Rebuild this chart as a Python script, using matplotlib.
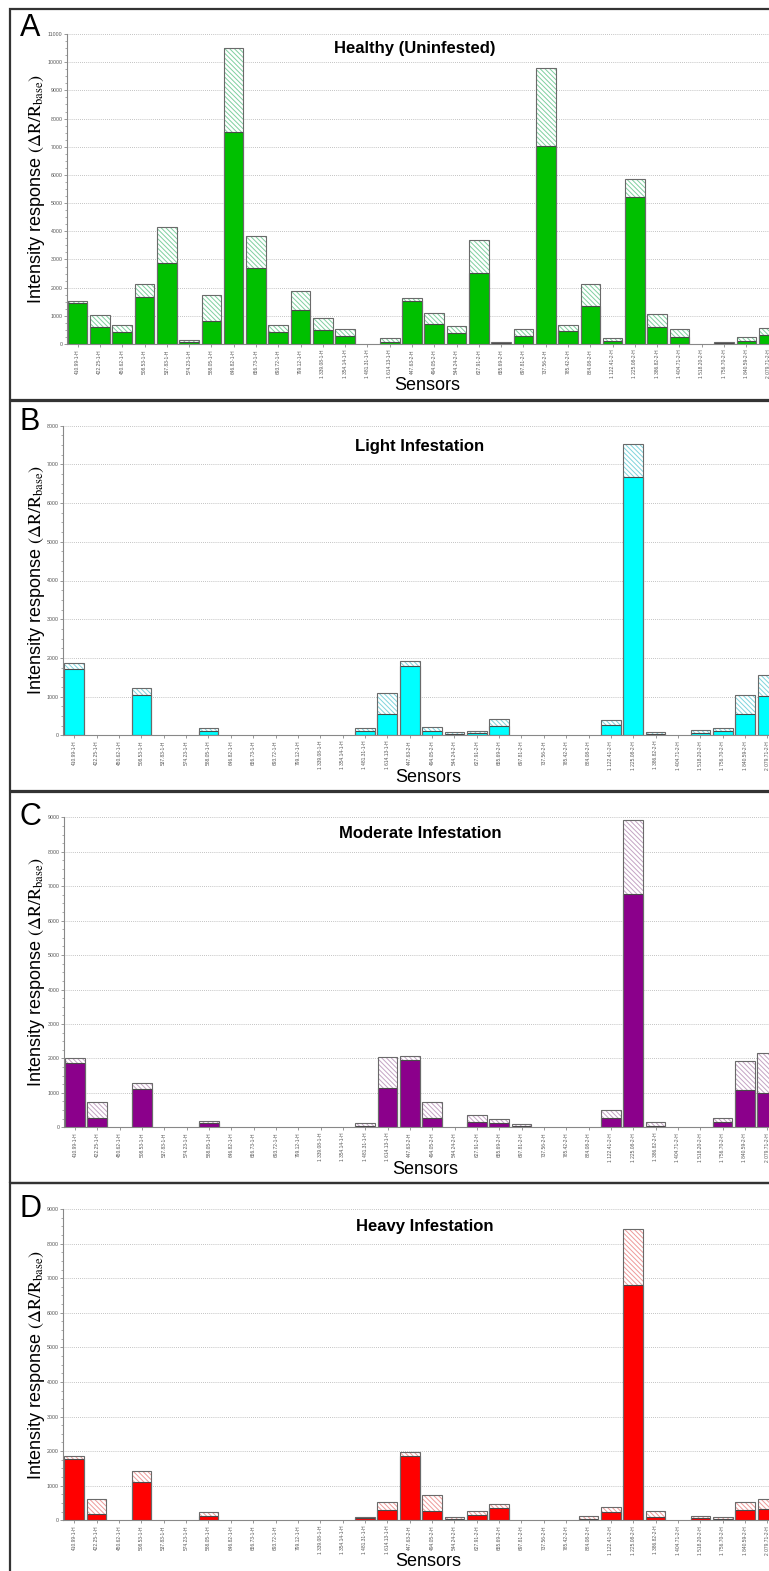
import matplotlib
matplotlib.use("Agg")
import matplotlib.pyplot as plt
from matplotlib.patches import Rectangle
from matplotlib.ticker import MultipleLocator
import numpy as np

# ---------------- data ----------------
sensors = ["410.99-1-H", "422.25-1-H", "450.62-1-H", "508.53-1-H", "537.83-1-H",
           "574.23-1-H", "588.05-1-H", "646.82-1-H", "656.73-1-H", "693.72-1-H",
           "799.12-1-H", "1 339.08-1-H", "1 354.14-1-H", "1 481.31-1-H", "1 614.13-1-H",
           "447.63-2-H", "494.05-2-H", "544.24-2-H", "627.91-2-H", "655.69-2-H",
           "697.81-2-H", "737.56-2-H", "785.42-2-H", "884.08-2-H", "1 122.41-2-H",
           "1 225.08-2-H", "1 386.82-2-H", "1 404.71-2-H", "1 518.20-2-H", "1 756.70-2-H",
           "1 840.59-2-H", "2 079.71-2-H"]

healthy_mean = [1440, 610, 425, 1680, 2885, 80, 815, 7540, 2680, 415, 1205, 485, 270, 0, 85,
                1525, 700, 400, 2530, 40, 285, 7030, 460, 1350, 105, 5225, 590, 250, 0, 40, 105, 320]
healthy_top = [1520, 1015, 670, 2130, 4140, 150, 1725, 10510, 3850, 660, 1890, 935, 545, 0, 210,
               1620, 1090, 650, 3690, 80, 545, 9790, 660, 2130, 210, 5840, 1050, 520, 0, 80, 235, 555]

light_mean = [1714, 0, 0, 1042, 0, 0, 112, 0, 0, 0, 0, 0, 0, 112, 551,
              1791, 121, 43, 52, 250, 0, 0, 0, 0, 258, 6666, 34, 0, 69, 112, 543, 1016]
light_top = [1860, 0, 0, 1214, 0, 0, 181, 0, 0, 0, 0, 0, 0, 181, 1102,
             1929, 224, 86, 103, 431, 0, 0, 0, 0, 388, 7528, 78, 0, 146, 181, 1034, 1559]

moderate_mean = [1877, 261, 0, 1123, 0, 0, 116, 0, 0, 0, 0, 0, 0, 48, 1152,
                 1955, 271, 0, 145, 116, 39, 0, 0, 0, 281, 6784, 48, 0, 0, 145, 1084, 997]
moderate_top = [2003, 726, 0, 1277, 0, 0, 174, 0, 0, 0, 0, 0, 0, 116, 2042,
                2081, 735, 0, 368, 232, 87, 0, 0, 0, 503, 8913, 155, 0, 0, 261, 1926, 2158]

heavy_mean = [1783, 183, 0, 1118, 0, 0, 125, 0, 0, 0, 0, 0, 0, 58, 289,
              1860, 270, 48, 145, 357, 0, 0, 0, 48, 251, 6804, 96, 0, 58, 39, 289, 337]
heavy_top = [1870, 626, 0, 1417, 0, 0, 231, 0, 0, 0, 0, 0, 0, 106, 520,
             1966, 723, 106, 260, 482, 0, 0, 0, 125, 376, 8432, 279, 0, 116, 87, 520, 607]

panel_letters = ["A", "B", "C", "D"]
panel_titles = ["Healthy (Uninfested)", "Light Infestation", "Moderate Infestation", "Heavy Infestation"]
panel_ymax = [11000, 8000, 9000, 9000]

# ---------------- style ----------------
plt.rcParams["font.family"] = ["Liberation Sans", "DejaVu Sans"]
plt.rcParams["mathtext.fontset"] = "stix"
plt.rcParams["hatch.linewidth"] = 0.7

W, H = 769, 1571
fig = plt.figure(figsize=(W / 100, H / 100), dpi=100)

def px_axes(left, top, right, bottom):
    return fig.add_axes([left / W, 1 - bottom / H, (right - left) / W, (bottom - top) / H])

def px_text(x, y, s, **kw):
    fig.text(x / W, 1 - y / H, s, **kw)

solid_colors = ["#00c000", "#00ffff", "#8b008b", "#ff0000"]
hatch_colors = ["#7fcf9f", "#7fd4dc", "#c4a4c4", "#ee9a9a"]

# axes geometry in pixels: left, top(ymax), spacing, bottom(0)
geo = [
    (66.5, 34.0, 22.29, 344.0),
    (63.1, 425.7, 22.36, 735.3),
    (63.8, 817.3, 22.33, 1127.3),
    (63.1, 1209.0, 22.36, 1520.3),
]
frames = [(9, 400), (401, 791), (792, 1183), (1183, 1600)]
title_pos = [(415, 48), (420, 446), (420, 834), (425, 1226)]
letter_pos = [(30, 28), (30, 422), (30, 817), (30, 1209)]
xlabel_pos = [(427, 385), (428, 777), (425, 1170), (428, 1562)]

means = [healthy_mean, light_mean, moderate_mean, heavy_mean]
tops = [healthy_top, light_top, moderate_top, heavy_top]

n = len(sensors)
x = np.arange(n)

for k in range(4):
    # panel frame
    y0, y1 = frames[k]
    fig.add_artist(Rectangle((10 / W, 1 - y1 / H), (900 - 10) / W, (y1 - y0) / H,
                             transform=fig.transFigure, fill=False,
                             edgecolor="#333333", linewidth=1.6))

    left, top, sp, bottom = geo[k]
    ax = px_axes(left, top, left + n * sp, bottom)
    m = np.array(means[k], dtype=float)
    t = np.array(tops[k], dtype=float)
    mask = t > 0
    w = 0.88
    # hatched upper part (total)
    ax.bar(x[mask], t[mask], width=w, color="white", hatch="\\" * 7,
           edgecolor=hatch_colors[k], linewidth=0, zorder=2)
    # solid lower part (mean)
    ax.bar(x[mask], m[mask], width=w, color=solid_colors[k],
           edgecolor="#4a4a4a", linewidth=0.8, zorder=3)
    # outline of full bar
    ax.bar(x[mask], t[mask], width=w, fill=False,
           edgecolor="#6a6a6a", linewidth=0.8, zorder=4)

    ax.set_xlim(-0.5, n - 0.5)
    ax.set_ylim(0, panel_ymax[k])
    ax.yaxis.set_major_locator(MultipleLocator(1000))
    ax.yaxis.set_minor_locator(MultipleLocator(250))
    ax.set_xticks(x)
    ax.set_xticklabels(sensors, rotation=90, fontsize=3.5, color="#555555")
    ax.tick_params(axis="x", length=2, width=0.6, color="#888888", pad=2)
    ax.tick_params(axis="y", which="major", labelsize=3.8, labelcolor="#555555",
                   length=2, width=0.6, color="#888888", pad=1)
    ax.tick_params(axis="y", which="minor", length=1.2, width=0.5, color="#888888")
    ax.grid(axis="y", which="major", linestyle=(0, (1, 1.5)), color="#b0b0b0", linewidth=0.6)
    ax.set_axisbelow(True)
    for s in ["top", "right"]:
        ax.spines[s].set_visible(False)
    for s in ["left", "bottom"]:
        ax.spines[s].set_color("#888888")
        ax.spines[s].set_linewidth(0.8)

    px_text(*title_pos[k], panel_titles[k], fontsize=12, fontweight="bold",
            ha="center", va="center")
    px_text(*letter_pos[k], panel_letters[k], fontsize=22, ha="center", va="center")
    px_text(*xlabel_pos[k], "Sensors", fontsize=13, ha="center", va="center")
    px_text(36.7, (top + bottom) / 2, r"Intensity response $\mathrm{(\Delta R/R_{base})}$",
            fontsize=13, rotation=90, ha="center", va="center")

fig.savefig("out.png", dpi=100, facecolor="white")
